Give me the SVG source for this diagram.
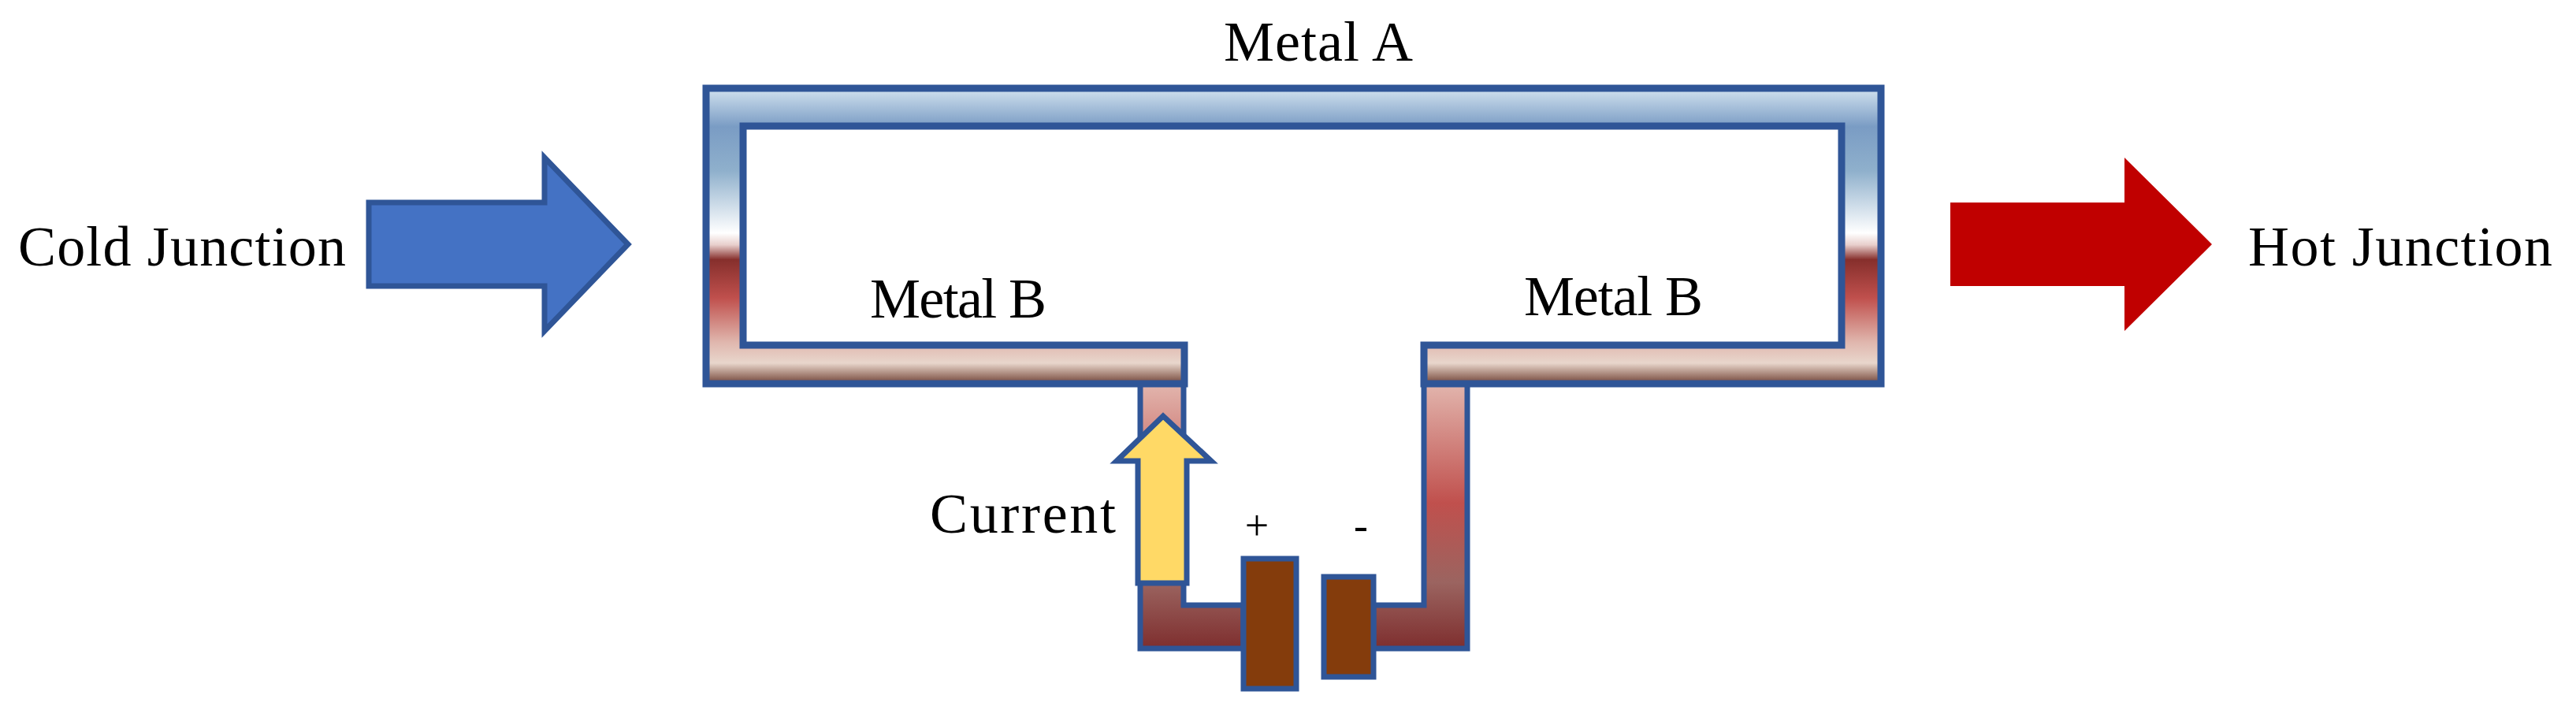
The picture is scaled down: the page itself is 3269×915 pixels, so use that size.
<svg xmlns="http://www.w3.org/2000/svg" width="3269" height="915" viewBox="0 0 3269 915">
<style>
text{font-family:"Liberation Serif",serif;fill:#000;}
.lbl{font-size:72px;}
.pm{font-size:54px;}
.edge{stroke:#2f5597;}
</style>
<defs>
<linearGradient id="frameG" gradientUnits="userSpaceOnUse" x1="0" y1="112" x2="0" y2="487">
<stop offset="0" stop-color="#d2e2ef"/>
<stop offset="0.13" stop-color="#7a9cc4"/>
<stop offset="0.28" stop-color="#8fb0cc"/>
<stop offset="0.49" stop-color="#ffffff"/>
<stop offset="0.53" stop-color="#e8cfcc"/>
<stop offset="0.58" stop-color="#862f2c"/>
<stop offset="0.71" stop-color="#c0504d"/>
<stop offset="0.86" stop-color="#e0b7ae"/>
<stop offset="0.93" stop-color="#e8d6cc"/>
<stop offset="0.97" stop-color="#a58275"/>
<stop offset="1" stop-color="#6e4238"/>
</linearGradient>
<linearGradient id="tubeG" gradientUnits="userSpaceOnUse" x1="0" y1="487" x2="0" y2="823">
<stop offset="0" stop-color="#e2b5ad"/>
<stop offset="0.45" stop-color="#c0504d"/>
<stop offset="0.75" stop-color="#9b6460"/>
<stop offset="1" stop-color="#7e2e2e"/>
</linearGradient>
</defs>
<g id="cold-arrow">
<polygon points="468,257 691,257 691,200 797,310 691,420 691,363 468,363" fill="#4472c4" class="edge" stroke-width="7"/>
<text class="lbl" x="23" y="337" textLength="416">Cold Junction</text>
</g>
<g id="hot-arrow">
<polygon points="2475,257 2696,257 2696,200 2807,310 2696,420 2696,363 2475,363" fill="#c00000"/>
<text class="lbl" x="2853" y="337" textLength="386">Hot Junction</text>
</g>
<g id="circuit">
<path d="M1447,483 V823 H1578 V768 H1502 V483 Z" fill="url(#tubeG)" class="edge" stroke-width="7"/>
<path d="M1862,483 V823 H1743 V768 H1807 V483 Z" fill="url(#tubeG)" class="edge" stroke-width="7"/>
<path d="M896,112 H2387 V487 H1807 V438 H2337 V160 H943 V438 H1503 V487 H896 Z" fill="url(#frameG)" class="edge" stroke-width="9"/>
</g>
<g id="battery">
<rect x="1578" y="709" width="67" height="165" fill="#843c0c" class="edge" stroke-width="7"/>
<rect x="1680" y="732" width="63" height="127" fill="#843c0c" class="edge" stroke-width="7"/>
<text class="pm" x="1595" y="685" text-anchor="middle">+</text>
<text class="pm" x="1727" y="685" text-anchor="middle">-</text>
</g>
<g id="current-arrow">
<polygon points="1476,528 1537,585 1506,585 1506,740 1444,740 1444,585 1417,585" fill="#ffd966" class="edge" stroke-width="7"/>
<text class="lbl" x="1180" y="676" textLength="236">Current</text>
</g>
<g id="labels">
<text class="lbl" x="1553" y="77" textLength="240">Metal A</text>
<text class="lbl" x="1104" y="403" textLength="224">Metal B</text>
<text class="lbl" x="1934" y="400" textLength="227">Metal B</text>
</g>
</svg>
